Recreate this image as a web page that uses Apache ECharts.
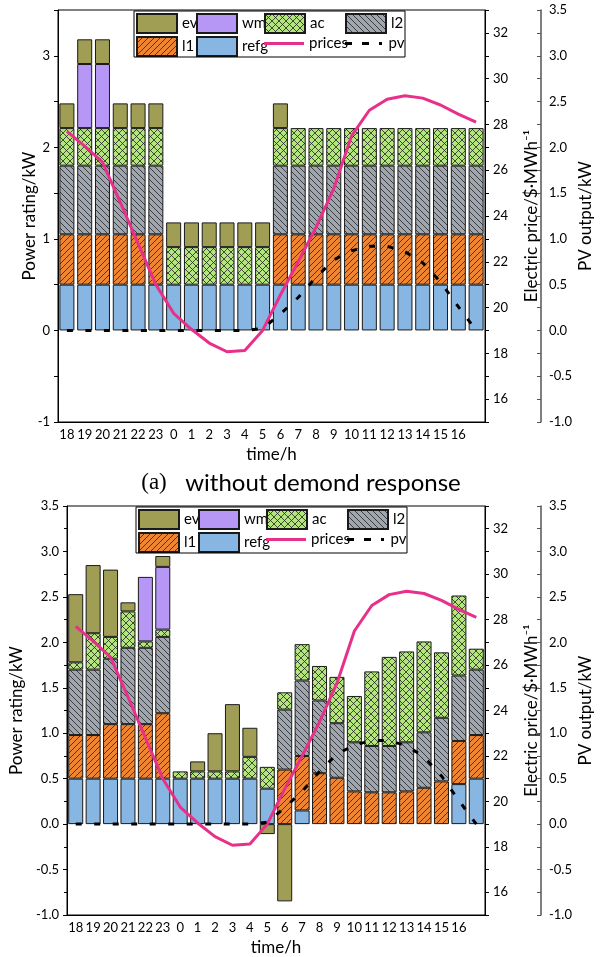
<!DOCTYPE html>
<html>
<head>
<meta charset="utf-8">
<script src="https://cdn.jsdelivr.net/npm/echarts@6/dist/echarts.min.js"></script>
</head>
<body style="margin:0; background:#fff">
<div id="main" style="width:602px;height:957px;"></div>
<script>
// hours of the day, 18h to 17h next day
var hours = ['18','19','20','21','22','23','0','1','2','3','4','5','6','7','8','9','10','11','12','13','14','15','16','17'];

// (a) without demand response, kW
var refgA = [0.5,0.5,0.5,0.5,0.5,0.5, 0.5,0.5,0.5,0.5,0.5,0.5, 0.5,0.5,0.5,0.5,0.5,0.5,0.5,0.5,0.5,0.5,0.5,0.5];
var l1A   = [0.55,0.55,0.55,0.55,0.55,0.55, 0,0,0,0,0,0, 0.55,0.55,0.55,0.55,0.55,0.55,0.55,0.55,0.55,0.55,0.55,0.55];
var l2A   = [0.75,0.75,0.75,0.75,0.75,0.75, 0,0,0,0,0,0, 0.75,0.75,0.75,0.75,0.75,0.75,0.75,0.75,0.75,0.75,0.75,0.75];
var acA   = [0.41,0.41,0.41,0.41,0.41,0.41, 0.41,0.41,0.41,0.41,0.41,0.41, 0.41,0.41,0.41,0.41,0.41,0.41,0.41,0.41,0.41,0.41,0.41,0.41];
var wmA   = [0,0.7,0.7,0,0,0, 0,0,0,0,0,0, 0,0,0,0,0,0,0,0,0,0,0,0];
var evA   = [0.27,0.27,0.27,0.27,0.27,0.27, 0.27,0.27,0.27,0.27,0.27,0.27, 0.27,0,0,0,0,0,0,0,0,0,0,0];

// (b) with demand response, kW
var refgB = [0.5,0.5,0.5,0.5,0.5,0.5, 0.5,0.5,0.5,0.5,0.5,0.39, 0,0.15,0,0,0,0,0,0,0,0,0.44,0.5];
var l1B   = [0.48,0.48,0.6,0.6,0.6,0.72, 0,0,0,0,0,0, 0.6,0.6,0.56,0.51,0.36,0.35,0.35,0.36,0.4,0.47,0.475,0.48];
var l2B   = [0.72,0.72,0.72,0.84,0.84,0.84, 0,0,0,0,0,0, 0.66,0.83,0.8,0.6,0.54,0.51,0.51,0.54,0.61,0.7,0.72,0.72];
var acB   = [0.08,0.4,0.24,0.4,0.07,0.08, 0.08,0.08,0.08,0.08,0.24,0.24, 0.19,0.4,0.38,0.51,0.51,0.82,0.98,1.0,1.0,0.72,0.88,0.23];
var wmB   = [0,0,0,0,0.71,0.69, 0,0,0,0,0,0, 0,0,0,0,0,0,0,0,0,0,0,0];
var evB   = [0.75,0.75,0.74,0.1,0,0.12, 0,0.11,0.42,0.74,0.32,-0.11, -0.85,0,0,0,0,0,0,0,0,0,0,0];

// electricity price $/MWh and pv output kW (same in both cases)
var prices = [27.7,27.05,26.35,24.6,22.8,21.0, 19.75,19.05,18.45,18.07,18.12,19.0, 20.55,22.0,23.5,25.2,27.5,28.62,29.1,29.25,29.15,28.85,28.45,28.1];
var pv     = [0,0,0,0,0,0, 0,0,0,0,0,0.02, 0.18,0.36,0.58,0.77,0.87,0.92,0.92,0.86,0.74,0.53,0.26,0.0];

var font = 'Lato';

function hatch(bg, size, kinds) {
    var c = document.createElement('canvas');
    c.width = size; c.height = size;
    var ctx = c.getContext('2d');
    ctx.fillStyle = bg;
    ctx.fillRect(0, 0, size, size);
    ctx.strokeStyle = '#222';
    ctx.lineWidth = 0.8;
    kinds.forEach(function (k) {
        ctx.beginPath();
        if (k === '/') {
            ctx.moveTo(-1, 1); ctx.lineTo(1, -1);
            ctx.moveTo(0, size); ctx.lineTo(size, 0);
            ctx.moveTo(size - 1, size + 1); ctx.lineTo(size + 1, size - 1);
        } else {
            ctx.moveTo(-1, size - 1); ctx.lineTo(1, size + 1);
            ctx.moveTo(0, 0); ctx.lineTo(size, size);
            ctx.moveTo(size - 1, -1); ctx.lineTo(size + 1, 1);
        }
        ctx.stroke();
    });
    return { image: c, repeat: 'repeat' };
}

var fills = {
    refg: '#88B6E3',
    l1: hatch('#EE8532', 6, ['/']),
    l2: hatch('#A0A6AF', 6, ['\\']),
    ac: hatch('#B3E67C', 7, ['/', '\\']),
    wm: '#B797F5',
    ev: '#A09D54'
};

var sets = [
    { refg: refgA, l1: l1A, l2: l2A, ac: acA, wm: wmA, ev: evA },
    { refg: refgB, l1: l1B, l2: l2B, ac: acB, wm: wmB, ev: evB }
];
var barNames = ['refg', 'l1', 'l2', 'ac', 'wm', 'ev'];

var grids = [
    { left: 58, right: 113, top: 10, height: 412 },
    { left: 61, right: 113, top: 506, height: 410 }
];

var xAxes = [], yAxes = [], series = [];
grids.forEach(function (g, gi) {
    g.show = true;
    g.borderColor = '#000';
    g.borderWidth = 1;
    xAxes.push({
        gridIndex: gi, type: 'category', data: hours,
        name: 'time/h', nameLocation: 'middle', nameGap: 24,
        nameTextStyle: { fontFamily: font, fontSize: 17, color: '#000' },
        axisLine: { onZero: false, lineStyle: { color: '#000' } },
        axisTick: { interval: 0, length: 4, lineStyle: { color: '#000' } },
        axisLabel: {
            interval: 0, margin: 6, fontFamily: font, fontSize: 13, color: '#000',
            formatter: function (v, i) { return i === 23 ? '' : v; }
        }
    });
    yAxes.push({
        gridIndex: gi, type: 'value', position: 'left', min: -1, max: 3.5, interval: 0.5,
        name: 'Power rating/kW', nameLocation: 'middle', nameGap: gi === 0 ? 20 : 42,
        nameMoveOverlap: false,
        nameTextStyle: { fontFamily: font, fontSize: 17, color: '#000' },
        axisLine: { show: true, lineStyle: { color: '#000' } },
        axisTick: { show: true, length: 4, lineStyle: { color: '#000' } },
        minorTick: { show: gi === 1, splitNumber: 2, length: 3, lineStyle: { color: '#000' } },
        splitLine: { show: false },
        axisLabel: {
            fontFamily: font, fontSize: 13, color: '#000',
            formatter: gi === 0
                ? function (v) { return Math.abs(v - Math.round(v)) < 1e-6 ? String(Math.round(v)) : ''; }
                : function (v) { return v.toFixed(1); }
        }
    });
    yAxes.push({
        gridIndex: gi, type: 'value', position: 'right', min: 15, max: 33, interval: 1,
        name: 'Electric price/$·MWh⁻¹', nameLocation: 'middle', nameGap: 38, nameRotate: 90,
        nameMoveOverlap: false,
        nameTextStyle: { fontFamily: font, fontSize: 17, color: '#000' },
        axisLine: { show: true, lineStyle: { color: '#000' } },
        axisTick: { show: true, length: 4, lineStyle: { color: '#000' } },
        splitLine: { show: false },
        axisLabel: {
            fontFamily: font, fontSize: 13, color: '#000',
            formatter: function (v) { return Math.round(v) % 2 === 0 ? String(Math.round(v)) : ''; }
        }
    });
    yAxes.push({
        gridIndex: gi, type: 'value', position: 'right', offset: 56, min: -1, max: 3.5, interval: 0.5,
        name: 'PV output/kW', nameLocation: 'middle', nameGap: 36, nameRotate: 90,
        nameMoveOverlap: false,
        nameTextStyle: { fontFamily: font, fontSize: 17, color: '#000' },
        axisLine: { show: true, lineStyle: { color: '#555', width: 1.5 } },
        axisTick: { show: true, inside: true, length: 4, lineStyle: { color: '#555' } },
        minorTick: { show: true, splitNumber: 2, length: 4, lineStyle: { color: '#555' } },
        splitLine: { show: false },
        axisLabel: {
            fontFamily: font, fontSize: 13, color: '#000',
            formatter: function (v) { return v.toFixed(1); }
        }
    });

    barNames.forEach(function (n) {
        series.push({
            name: n, type: 'bar', stack: 'g' + gi,
            xAxisIndex: gi, yAxisIndex: gi * 3,
            barWidth: 15,
            itemStyle: { color: fills[n], borderColor: '#1a1a1a', borderWidth: 1 },
            data: sets[gi][n].map(function (v) { return v === 0 ? '-' : v; })
        });
    });
    series.push({
        name: 'prices', type: 'line', xAxisIndex: gi, yAxisIndex: gi * 3 + 1,
        symbol: 'none', z: 5,
        lineStyle: { color: '#E8308A', width: 3 },
        itemStyle: { color: '#E8308A' },
        data: prices
    });
    series.push({
        name: 'pv', type: 'line', xAxisIndex: gi, yAxisIndex: gi * 3 + 2,
        symbol: 'none', z: 6,
        lineStyle: { color: '#000', width: 3, type: [6, 12.5], cap: 'butt' },
        itemStyle: { color: '#000' },
        data: pv
    });
});

// legend: bar items in a 2-row grid, line items as thin strips in row 2
var barCols = [['ev', 'l1'], ['wm', 'refg'], ['ac'], ['l2']];
var colLeft = [136, 196, 264, 345];
var legendTop = [13, 509];
var lineIcons = {
    prices: 'rect',
    pv: 'path://M0,0h7v3h-7z M17,0h7v3h-7z M34,0h3v3h-3z'
};
var legends = [];
legendTop.forEach(function (t, gi) {
    var dx = gi * 2;
    barCols.forEach(function (c, ci) {
        legends.push({
            data: c.map(function (n) { return { name: n, icon: 'rect' }; }),
            orient: 'vertical', left: colLeft[ci] + dx, top: t,
            itemWidth: 40, itemHeight: 19, itemGap: 2, padding: 0,
            selectedMode: false,
            textStyle: { fontFamily: font, fontSize: 15, color: '#000' }
        });
    });
    ['prices', 'pv'].forEach(function (n, k) {
        legends.push({
            data: [{ name: n, icon: lineIcons[n] }],
            left: colLeft[k + 2] + dx, top: t + 21, height: 19,
            itemWidth: 40, itemHeight: 3, padding: 0,
            selectedMode: false,
            textStyle: { fontFamily: font, fontSize: 15, color: '#000', lineHeight: 19 }
        });
    });
});

var myChart = echarts.init(document.getElementById('main'));
var option = {
    backgroundColor: '#fff',
    animation: false,
    title: {
        left: 'center', top: 466,
        text: '{a|(a)}{b|   without demond response}',
        textStyle: {
            fontWeight: 'normal',
            rich: {
                a: { fontFamily: 'Liberation Serif', fontSize: 23, fontWeight: 'normal', color: '#000' },
                b: { fontFamily: font, fontSize: 24, fontWeight: 'normal', color: '#000' }
            }
        }
    },
    grid: grids,
    xAxis: xAxes,
    yAxis: yAxes,
    legend: legends,
    graphic: [
        { type: 'rect', shape: { x: 134, y: 11, width: 271, height: 46 },
          style: { fill: 'none', stroke: '#000', lineWidth: 1 }, z: 100 },
        { type: 'rect', shape: { x: 136, y: 507, width: 271, height: 46 },
          style: { fill: 'none', stroke: '#000', lineWidth: 1 }, z: 100 }
    ],
    series: series
};
myChart.setOption(option);
</script>
</body>
</html>
